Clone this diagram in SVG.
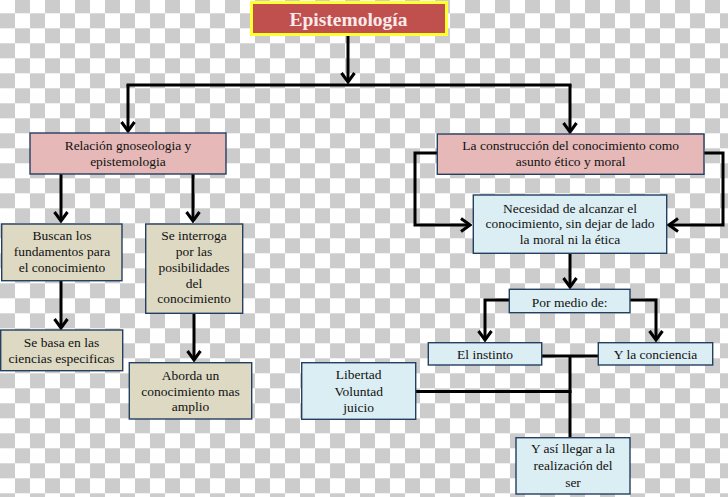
<svg xmlns="http://www.w3.org/2000/svg" width="728" height="497" viewBox="0 0 728 497">
<defs>
<pattern id="chk" patternUnits="userSpaceOnUse" x="0" y="-1.7" width="30" height="30">
<rect x="0" y="0" width="30" height="30" fill="#ffffff"/>
<rect x="15" y="0" width="15" height="15" fill="#cccccc"/>
<rect x="0" y="15" width="15" height="15" fill="#cccccc"/>
</pattern>
<marker id="arr" viewBox="0 0 12 16" refX="10" refY="8" markerWidth="12" markerHeight="16" markerUnits="userSpaceOnUse" orient="auto">
<path d="M1,1.5 L10,8 L1,14.5" fill="none" stroke="#000" stroke-width="3"/>
</marker>
<style>
.box{stroke:#243f60;stroke-width:1.4}
.pink{fill:#e6b9b8}
.beige{fill:#ddd9c3}
.blue{fill:#dbeef4}
.t{font-family:"Liberation Serif","Times New Roman",serif;font-size:13.5px;fill:#111;text-anchor:middle}
.c{fill:none;stroke:#000;stroke-width:3}
</style>
</defs>
<rect x="0" y="0" width="728" height="497" fill="url(#chk)"/>
<g id="connectors">
<path class="c" d="M348,36 V82" marker-end="url(#arr)"/>
<path class="c" d="M126.5,85 H571.5"/>
<path class="c" d="M128,85 V131" marker-end="url(#arr)"/>
<path class="c" d="M570,85 V132" marker-end="url(#arr)"/>
<path class="c" d="M61,174 V221" marker-end="url(#arr)"/>
<path class="c" d="M193,174 V221" marker-end="url(#arr)"/>
<path class="c" d="M61,281 V328" marker-end="url(#arr)"/>
<path class="c" d="M194,313 V360" marker-end="url(#arr)"/>
<path class="c" d="M437,153 H415 V225 H470" marker-end="url(#arr)"/>
<path class="c" d="M704,153 H723 V225 H669" marker-end="url(#arr)"/>
<path class="c" d="M570,253 V287" marker-end="url(#arr)"/>
<path class="c" d="M509,300 H485 V340" marker-end="url(#arr)"/>
<path class="c" d="M630,300 H656 V340" marker-end="url(#arr)"/>
<path class="c" d="M541.7,356 H598.3"/>
<path class="c" d="M570,356 V437.7"/>
<path class="c" d="M415.7,391.5 H571.5"/>
</g>
<g id="title">
<rect x="251.5" y="2.5" width="195" height="32" fill="#c0504d" stroke="#ffff33" stroke-width="3"/>
<text x="348.5" y="26" style="font-family:'Liberation Serif','Times New Roman',serif;font-size:19.5px;font-weight:bold;fill:#fbeaea;text-anchor:middle">Epistemología</text>
</g>
<g id="relacion">
<rect class="box pink" x="30" y="133" width="196" height="41"/>
<text class="t" x="128" y="150">Relación gnoseologia y</text>
<text class="t" x="128" y="165.7">epistemologia</text>
</g>
<g id="buscan">
<rect class="box beige" x="1.7" y="224" width="120.3" height="56.7"/>
<text class="t" x="62" y="240">Buscan los</text>
<text class="t" x="62" y="256">fundamentos para</text>
<text class="t" x="62" y="271.7">el conocimiento</text>
</g>
<g id="interroga">
<rect class="box beige" x="145.7" y="224" width="97" height="89.3"/>
<text class="t" x="194" y="240">Se interroga</text>
<text class="t" x="194" y="256">por las</text>
<text class="t" x="194" y="271.7">posibilidades</text>
<text class="t" x="194" y="287.7">del</text>
<text class="t" x="194" y="303.3">conocimiento</text>
</g>
<g id="sebasa">
<rect class="box beige" x="0.7" y="330" width="122" height="40.7"/>
<text class="t" x="61.5" y="346.7">Se basa en las</text>
<text class="t" x="61.5" y="362.7">ciencias especificas</text>
</g>
<g id="aborda">
<rect class="box beige" x="129.3" y="362.7" width="122.4" height="56.3"/>
<text class="t" x="190.5" y="380">Aborda un</text>
<text class="t" x="190.5" y="395.7">conocimiento mas</text>
<text class="t" x="190.5" y="411">amplio</text>
</g>
<g id="construccion">
<rect class="box pink" x="437.3" y="134" width="266.7" height="40.3"/>
<text class="t" x="570.7" y="150">La construcción del conocimiento como</text>
<text class="t" x="570.7" y="165.7">asunto ético y moral</text>
</g>
<g id="necesidad">
<rect class="box blue" x="473.3" y="195" width="193.4" height="58.3"/>
<text class="t" x="570" y="212.7">Necesidad de alcanzar el</text>
<text class="t" x="570" y="228.3">conocimiento, sin dejar de lado</text>
<text class="t" x="570" y="244">la moral ni la ética</text>
</g>
<g id="pormedio">
<rect class="box blue" x="509.3" y="289.3" width="120.7" height="23.4"/>
<text class="t" x="569.7" y="306.7">Por medio de:</text>
</g>
<g id="instinto">
<rect class="box blue" x="428.3" y="342.7" width="113.4" height="22.3"/>
<text class="t" x="485" y="359.3">El instinto</text>
</g>
<g id="conciencia">
<rect class="box blue" x="598.3" y="342.7" width="114.4" height="22.3"/>
<text class="t" x="655.5" y="359.3">Y la conciencia</text>
</g>
<g id="libertad">
<rect class="box blue" x="301.7" y="362.7" width="114" height="56.6"/>
<text class="t" x="358.7" y="379.3">Libertad</text>
<text class="t" x="358.7" y="395.7">Voluntad</text>
<text class="t" x="358.7" y="411.7">juicio</text>
</g>
<g id="realizacion">
<rect class="box blue" x="516" y="437.7" width="114" height="56.3"/>
<text class="t" x="573" y="453.3">Y así llegar a la</text>
<text class="t" x="573" y="470">realización del</text>
<text class="t" x="573" y="486.7">ser</text>
</g>
</svg>
